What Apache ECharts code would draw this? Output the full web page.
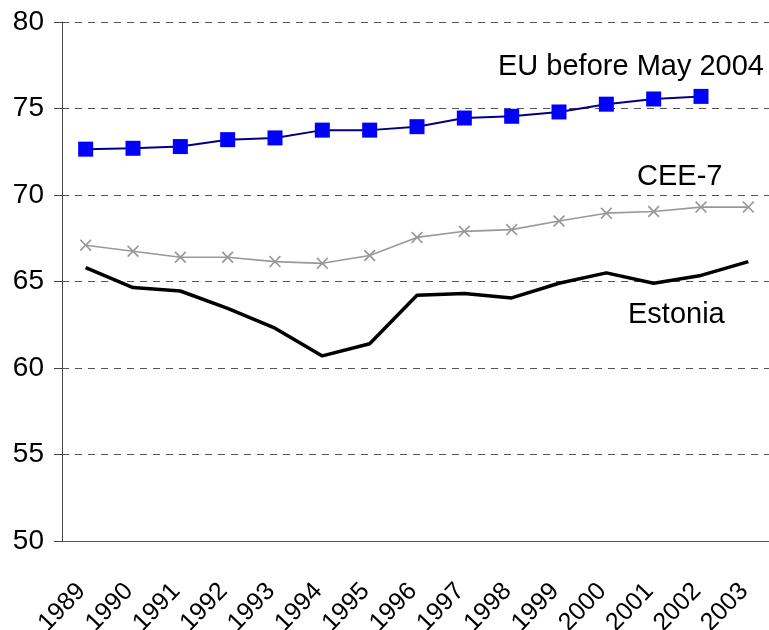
<!DOCTYPE html>
<html>
<head>
<meta charset="utf-8">
<script src="https://cdn.jsdelivr.net/npm/echarts@6/dist/echarts.min.js"></script>
<style>
  html, body { margin: 0; padding: 0; background: #fff; }
  #chart { width: 769px; height: 630px; }
</style>
</head>
<body>
<div id="chart"></div>
<script>
// years on the x axis
var years = ["1989", "1990", "1991", "1992", "1993", "1994", "1995", "1996",
  "1997", "1998", "1999", "2000", "2001", "2002", "2003"];

// values
var euBeforeMay2004 = [72.65, 72.7, 72.8, 73.2, 73.3, 73.75, 73.75, 73.95,
  74.45, 74.55, 74.8, 75.25, 75.55, 75.7, null];
var cee7 = [67.1, 66.75, 66.4, 66.4, 66.15, 66.05, 66.5, 67.55,
  67.9, 68.0, 68.5, 68.95, 69.05, 69.3, 69.3];
var estonia = [65.8, 64.65, 64.45, 63.45, 62.3, 60.7, 61.4, 64.2,
  64.3, 64.05, 64.9, 65.5, 64.9, 65.35, 66.15];

var font = "Liberation Sans, Arial, sans-serif";
var crossPath = "path://M1,0L5,4L9,0L10,1L6,5L10,9L9,10L5,6L1,10L0,9L4,5L0,1Z";

var myChart = echarts.init(document.getElementById("chart"));

var option = {
  animation: false,
  grid: {
    left: 62,
    right: -3,
    top: 22,
    bottom: 89,
    containLabel: false,
    outerBoundsMode: "none",
  },
  xAxis: {
    type: "category",
    data: years,
    boundaryGap: true,
    axisLine: { lineStyle: { color: "#555", width: 1 } },
    axisTick: { alignWithLabel: false, interval: 0, length: 7, lineStyle: { color: "#222" } },
    axisLabel: {
      interval: 0,
      rotate: 46,
      margin: 42,
      padding: [0, 6, 12, 0],
      fontSize: 25,
      fontFamily: font,
      color: "#000",
    },
    splitLine: { show: false },
  },
  yAxis: {
    type: "value",
    min: 50,
    max: 80,
    interval: 5,
    axisLine: { show: true, lineStyle: { color: "#444", width: 1 } },
    axisTick: { show: true, length: 8, lineStyle: { color: "#444" } },
    axisLabel: {
      margin: 18,
      fontSize: 28,
      fontFamily: font,
      color: "#000",
    },
    splitLine: {
      lineStyle: { color: "#555", type: [7, 6], width: 1 },
    },
  },
  graphic: [
    {
      type: "text",
      left: 498,
      top: 52,
      style: { text: "EU before May 2004", font: "29px " + font, fill: "#000" },
    },
    {
      type: "text",
      left: 637,
      top: 162,
      style: { text: "CEE-7", font: "29px " + font, fill: "#000" },
    },
    {
      type: "text",
      left: 628,
      top: 300,
      style: { text: "Estonia", font: "29px " + font, fill: "#000" },
    },
  ],
  series: [
    {
      name: "EU before May 2004",
      type: "line",
      data: euBeforeMay2004,
      symbol: "rect",
      symbolSize: 15,
      lineStyle: { color: "#000080", width: 2 },
      itemStyle: { color: "#0000ff" },
      z: 3,
    },
    {
      name: "CEE-7",
      type: "line",
      data: cee7,
      symbol: crossPath,
      symbolSize: 12,
      lineStyle: { color: "#999", width: 1.6 },
      itemStyle: { color: "#999" },
      z: 2,
    },
    {
      name: "Estonia",
      type: "line",
      data: estonia,
      showSymbol: false,
      symbol: "none",
      lineStyle: { color: "#000", width: 3.5 },
      z: 4,
    },
  ],
};

myChart.setOption(option);
</script>
</body>
</html>
